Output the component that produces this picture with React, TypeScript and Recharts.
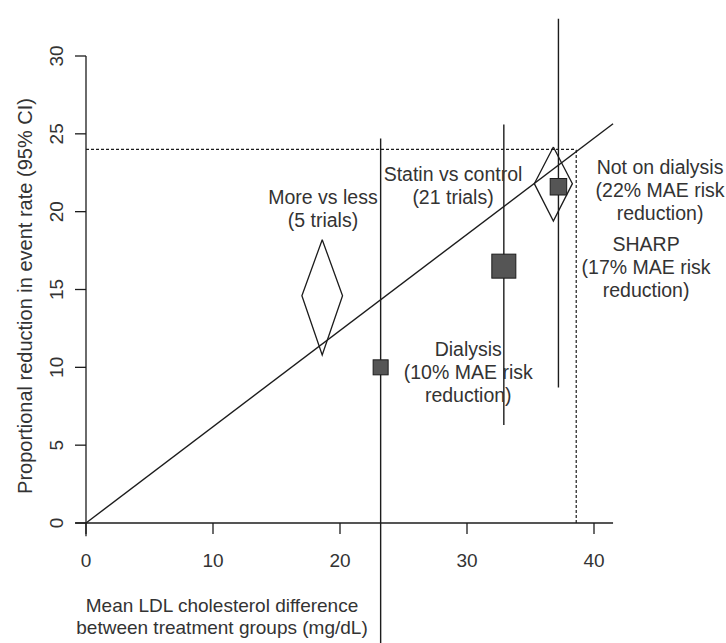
import { ScatterChart, Scatter, XAxis, YAxis, ReferenceLine, ReferenceDot } from 'recharts';

const FONT = '"Liberation Sans", Arial, sans-serif';
const INK = '#1c1c1c';
const TEXT = '#333';

const xTicks = [0, 10, 20, 30, 40];
const yTicks = [0, 5, 10, 15, 20, 25, 30];

// single studies: square + 95% CI
const studies = [
  { name: 'Dialysis', x: 23.2, y: 10, lo: -8, hi: 24.7, weight: 1 },
  { name: 'SHARP', x: 32.9, y: 16.5, lo: 6.3, hi: 25.6, weight: 1.6 },
  { name: 'Not on dialysis', x: 37.2, y: 21.6, lo: 8.7, hi: 32.4, weight: 1.1 },
];

// meta-analyses: diamonds
const metas = [
  { name: 'More vs less', x: 18.6, y: 14.6, lo: 10.8, hi: 18.2, xLo: 17.0, xHi: 20.2 },
  { name: 'Statin vs control', x: 36.8, y: 21.8, lo: 19.4, hi: 24.15, xLo: 35.3, xHi: 38.3 },
];

const fitLine = [
  { x: 0, y: 0 },
  { x: 41.5, y: 25.65 },
];
const target = { x: 38.6, y: 24 };

const notes = [
  { x: 18.66, y: 20.92, lines: ['More vs less', '(5 trials)'] },
  { x: 28.9, y: 22.4, lines: ['Statin vs control', '(21 trials)'] },
  { x: 45.2, y: 22.85, lines: ['Not on dialysis', '(22% MAE risk', 'reduction)'] },
  { x: 44.1, y: 17.9, lines: ['SHARP', '(17% MAE risk', 'reduction)'] },
  { x: 30.1, y: 11.17, lines: ['Dialysis', '(10% MAE risk', 'reduction)'] },
];

const BOX = 15;

const Square = (p: any) => {
  const s = BOX * p.payload.weight;
  return <rect x={p.cx - s / 2} y={p.cy - s / 2} width={s} height={s} fill='#555' stroke={INK} strokeWidth={1} />;
};

const YTick = (p: any) => (
  <text
    x={p.x}
    y={p.y}
    transform={`rotate(-90, ${p.x}, ${p.y})`}
    textAnchor='middle'
    fill={TEXT}
    fontSize={19}
    fontFamily={FONT}
  >
    {p.payload.value}
  </text>
);

const noteLabel = (lines: string[]) => (p: any) => {
  const { x, y } = p.viewBox;
  return (
    <text textAnchor='middle' fill={TEXT} fontSize={19.5} fontFamily={FONT}>
      {lines.map((l, i) => (
        <tspan key={i} x={x} y={y + i * 23 + 7}>
          {l}
        </tspan>
      ))}
    </text>
  );
};

const xTitle = () => (
  <text textAnchor='middle' fill={TEXT} fontSize={19} fontFamily={FONT}>
    <tspan x={222} y={612}>Mean LDL cholesterol difference</tspan>
    <tspan x={222} y={634}>between treatment groups (mg/dL)</tspan>
  </text>
);

const yTitle = () => (
  <text
    x={25}
    y={296}
    transform='rotate(-90, 25, 296)'
    textAnchor='middle'
    dominantBaseline='central'
    fill={TEXT}
    fontSize={20}
    fontFamily={FONT}
  >
    Proportional reduction in event rate (95% CI)
  </text>
);

export default function App() {
  return (
    <div style={{ position: 'absolute', left: 0, top: 0, width: 726, height: 643, background: '#fff' }}>
      <ScatterChart width={726} height={643} margin={{ top: 56, right: 132, bottom: 70, left: 0 }}>
        <XAxis
          type='number'
          dataKey='x'
          domain={[0, 40]}
          ticks={xTicks}
          axisLine={false}
          tickSize={11}
          tickMargin={20}
          tickLine={{ stroke: INK, strokeWidth: 1.3 }}
          tick={{ fill: TEXT, fontSize: 19, fontFamily: FONT }}
          height={50}
          label={{ content: xTitle }}
        />
        <YAxis
          type='number'
          dataKey='y'
          domain={[0, 30]}
          ticks={yTicks}
          axisLine={false}
          tickSize={11}
          tickMargin={12}
          tickLine={{ stroke: INK, strokeWidth: 1.3 }}
          tick={<YTick />}
          width={86}
          label={{ content: yTitle }}
        />

        {/* axes drawn R-style, a little past the ends */}
        <ReferenceLine segment={[{ x: -0.85, y: 0 }, { x: 41.5, y: 0 }]} stroke={INK} strokeWidth={1.3} ifOverflow='visible' />
        <ReferenceLine segment={[{ x: 0, y: -0.85 }, { x: 0, y: 30 }]} stroke={INK} strokeWidth={1.3} ifOverflow='visible' />

        <ReferenceLine
          segment={[{ x: 0, y: target.y }, { x: target.x, y: target.y }]}
          stroke={INK}
          strokeWidth={1.2}
          strokeDasharray='3 2'
          ifOverflow='visible'
        />
        <ReferenceLine
          segment={[{ x: target.x, y: 0 }, { x: target.x, y: target.y }]}
          stroke={INK}
          strokeWidth={1.2}
          strokeDasharray='3 2'
          ifOverflow='visible'
        />

        <ReferenceLine segment={fitLine} stroke={INK} strokeWidth={1.4} ifOverflow='visible' />

        {studies.map((s) => (
          <ReferenceLine
            key={s.name}
            segment={[{ x: s.x, y: s.lo }, { x: s.x, y: s.hi }]}
            stroke={INK}
            strokeWidth={1.4}
            ifOverflow='visible'
          />
        ))}

        {metas.map((m) => (
          <Scatter
            key={m.name}
            data={[
              { x: m.x, y: m.hi },
              { x: m.xHi, y: m.y },
              { x: m.x, y: m.lo },
              { x: m.xLo, y: m.y },
              { x: m.x, y: m.hi },
            ]}
            line={{ stroke: INK, strokeWidth: 1.3 }}
            lineType='joint'
            shape={() => <g />}
            isAnimationActive={false}
          />
        ))}

        <Scatter data={studies} shape={<Square />} isAnimationActive={false} />

        {notes.map((n, i) => (
          <ReferenceDot key={i} x={n.x} y={n.y} r={0} fill='none' stroke='none' ifOverflow='visible' label={noteLabel(n.lines)} />
        ))}
      </ScatterChart>
    </div>
  );
}
